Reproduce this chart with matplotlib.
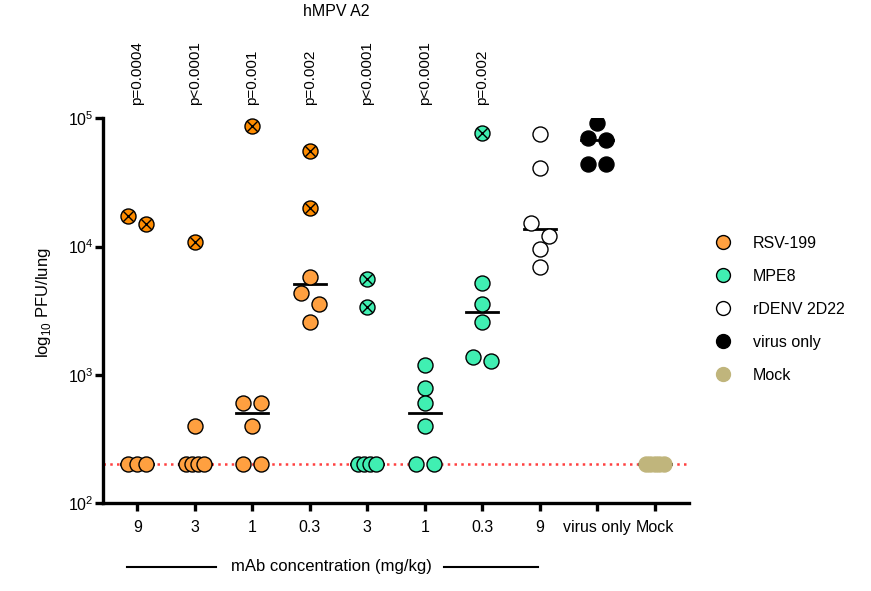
import numpy as np
import matplotlib.pyplot as plt
from matplotlib.lines import Line2D
from matplotlib.transforms import blended_transform_factory

plt.rcParams['font.family'] = ['Liberation Sans', 'DejaVu Sans']
plt.rcParams['mathtext.fontset'] = 'custom'
plt.rcParams['mathtext.rm'] = 'Liberation Sans'

# data (PFU/lung); "crossed" = marked with an X in the original
tick_labels = ["9", "3", "1", "0.3", "3", "1", "0.3", "9", "virus only", "Mock"]
p_values = ["p=0.0004", "p<0.0001", "p=0.001", "p=0.002", "p<0.0001", "p<0.0001", "p=0.002"]

rsv_crossed = [[17300, 14900], [10900], [87300], [55700, 19800]]
rsv_plain = [[200, 200, 200], [400, 200, 200, 200, 200], [600, 600, 400, 200, 200],
             [5770, 4360, 3590, 2590]]
mpe8_crossed = [[5560, 3370], [], [77300]]
mpe8_plain = [[200, 200, 200, 200], [1190, 793, 600, 400, 200, 200],
              [5180, 3560, 2590, 1380, 1290]]
denv = [75200, 41200, 15300, 12100, 9530, 6970]
virus_only = [92500, 70600, 67900, 43900, 43900]
mock = [200, 200, 200, 200, 200]
lod = 200

orange = "#FFA040"
orange_dark = "#FF8C00"
green = "#40EFB2"
tan = "#C0B57C"

fig = plt.figure(figsize=(8.71, 5.91), dpi=100)
ax = fig.add_axes([0.1186, 0.1489, 0.6722, 0.651])
ax.set_yscale("log")
ax.set_ylim(100, 1e5)
ax.set_xlim(-0.59, 9.59)

# pixel scales used to spread overlapping points (GraphPad-like scatter)
fig_w = fig.get_figwidth() * fig.dpi
fig_h = fig.get_figheight() * fig.dpi
px_x = 0.6722 * fig_w / (9.59 + 0.59)
px_dec = 0.651 * fig_h / 3.0


def spread(vals, thr=14, width=18):
    logs = np.log10(vals)
    order = np.argsort(-logs, kind="stable")
    rows = []
    start = None
    for i in order:
        if start is None or (start - logs[i]) * px_dec >= thr:
            rows.append([i])
            start = logs[i]
        else:
            rows[-1].append(i)
    offs = np.zeros(len(vals))
    for r in rows:
        if len(r) > 1:
            offs[r] = np.linspace(-width / 2, width / 2, len(r)) / px_x
    return offs


ms = 117
groups = []
for k in range(4):
    groups.append((rsv_crossed[k], rsv_plain[k], orange_dark, orange, "k"))
for k in range(3):
    groups.append((mpe8_crossed[k], mpe8_plain[k], green, green, "k"))
groups.append(([], denv, None, "white", "k"))
groups.append(([], virus_only, None, "black", "black"))
groups.append(([], mock, None, tan, tan))

ax.axhline(lod, color="#FF4040", ls=(0, (1, 1.7)), lw=1.8, zorder=1)

for i, (crossed, plain, ccol, pcol, ecol) in enumerate(groups):
    vals = list(crossed) + list(plain)
    offs = spread(vals)
    xs = i + offs
    nc = len(crossed)
    med = np.median(vals)
    ax.plot([i - 0.28, i + 0.28], [med, med], color="black", lw=2, zorder=2)
    if len(plain):
        ax.scatter(xs[nc:], plain, s=ms, c=pcol, edgecolors=ecol, linewidths=1, zorder=3)
    if nc:
        ax.scatter(xs[:nc], crossed, s=ms, c=ccol, edgecolors="k", linewidths=1, zorder=3)
        ax.scatter(xs[:nc], crossed, s=58, marker="x", c="k", linewidths=1, zorder=4)

ax.set_xticks(range(len(tick_labels)))
ax.set_xticklabels(tick_labels)
ax.set_yticks([1e2, 1e3, 1e4, 1e5])
ax.minorticks_off()
ax.tick_params(axis="both", length=6, width=2.4, labelsize=11.5, colors="black")
ax.tick_params(axis="x", pad=6)
ax.tick_params(axis="y", pad=1)
ax.spines[["top", "right"]].set_visible(False)
ax.spines[["left", "bottom"]].set_linewidth(2.4)
ax.set_ylabel("log$_{10}$ PFU/lung", fontsize=12)
ax.yaxis.set_label_coords(-0.086, 0.52)

trans = blended_transform_factory(ax.transData, ax.transAxes)
for i, p in enumerate(p_values):
    ax.text(i, 1.0346, p, rotation=90, ha="center", va="bottom", fontsize=11,
            transform=trans, clip_on=False)

fig.text(336 / 871, 1 - 12 / 591, "hMPV A2", ha="center", va="center", fontsize=11.5)

# bottom annotation
yb = 1 - 567 / 591
fig.add_artist(Line2D([127 / 871, 216 / 871], [yb, yb], color="black", lw=1.5))
fig.add_artist(Line2D([444 / 871, 538 / 871], [yb, yb], color="black", lw=1.5))
fig.text(331 / 871, yb, "mAb concentration (mg/kg)", ha="center", va="center", fontsize=12)

handles = [
    Line2D([], [], ls="", marker="o", ms=10, mfc=orange, mec="k", mew=1, label="RSV-199"),
    Line2D([], [], ls="", marker="o", ms=10, mfc=green, mec="k", mew=1, label="MPE8"),
    Line2D([], [], ls="", marker="o", ms=10, mfc="white", mec="k", mew=1, label="rDENV 2D22"),
    Line2D([], [], ls="", marker="o", ms=10, mfc="black", mec="black", label="virus only"),
    Line2D([], [], ls="", marker="o", ms=10, mfc=tan, mec=tan, label="Mock"),
]
fig.legend(handles=handles, loc="upper left", bbox_to_anchor=(713 / 871, 1 - 236 / 591),
           frameon=False, fontsize=11.5, labelspacing=1.12, handlelength=1.2,
           handletextpad=1.3, borderpad=0, borderaxespad=0)

fig.savefig("out.png", dpi=100)
